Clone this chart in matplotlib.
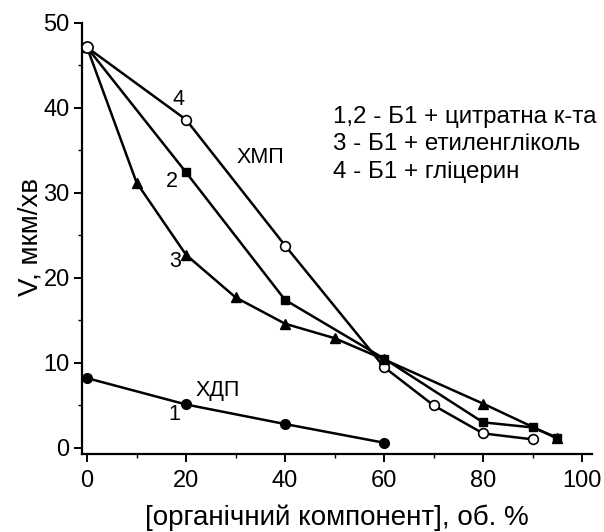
import matplotlib
matplotlib.use("Agg")
import matplotlib.pyplot as plt
from matplotlib.ticker import MultipleLocator

plt.rcParams['font.family'] = ['Liberation Sans', 'DejaVu Sans']

# 1 - ХДП, citric acid
x1 = [0, 20, 40, 60]
v1 = [8.2, 5.1, 2.8, 0.6]

# 2 - ХМП, citric acid
x2 = [0, 20, 40, 60, 80, 90, 95]
v2 = [47.1, 32.4, 17.4, 10.5, 3.0, 2.4, 1.2]

# 3 - ethylene glycol
x3 = [0, 10, 20, 30, 40, 50, 60, 80, 95]
v3 = [47.1, 31.2, 22.7, 17.7, 14.6, 12.9, 10.4, 5.2, 1.1]

# 4 - glycerol
x4 = [0, 20, 40, 60, 70, 80, 90]
v4 = [47.1, 38.6, 23.8, 9.5, 5.0, 1.7, 1.0]

legend_lines = ["1,2 - Б1 + цитратна к-та",
                "3 - Б1 + етиленгліколь",
                "4 - Б1 + гліцерин"]

fig = plt.figure(figsize=(6.04, 5.32), dpi=100)
ax = fig.add_axes([0.136, 0.147, 0.844, 0.815])

lw = 1.8
ax.plot(x4, v4, '-o', color='black', lw=lw, ms=7, mfc='white', mec='black', mew=1.2, zorder=3)
ax.plot(x2, v2, '-s', color='black', lw=lw, ms=6, zorder=4)
ax.plot(x3, v3, '-^', color='black', lw=lw, ms=7, zorder=4)
ax.plot(x1, v1, '-o', color='black', lw=lw, ms=7, zorder=4)
# start point shared by curves 2-4
ax.plot([x4[0]], [v4[0]], 'o', ms=8, mfc='white', mec='black', mew=1.2, zorder=5)

fs = 15.5
ax.text(18.4, 41.0, "4", fontsize=fs, ha='center', va='center')
ax.text(35.0, 34.2, "ХМП", fontsize=fs, ha='center', va='center')
ax.text(17.2, 31.3, "2", fontsize=fs, ha='center', va='center')
ax.text(17.8, 21.9, "3", fontsize=fs, ha='center', va='center')
ax.text(26.3, 6.8, "ХДП", fontsize=fs, ha='center', va='center')
ax.text(17.6, 3.9, "1", fontsize=fs, ha='center', va='center')

for i, line in enumerate(legend_lines):
    ax.text(49.7, 38.9 - i * 3.2, line, fontsize=17.4, ha='left', va='center')

ax.set_xlim(-1, 102)
ax.set_ylim(-0.7, 50.3)
ax.spines['top'].set_visible(False)
ax.spines['right'].set_visible(False)
for s in ('left', 'bottom'):
    ax.spines[s].set_linewidth(1.6)
ax.spines['left'].set_bounds(-0.7, 50)

ax.xaxis.set_major_locator(MultipleLocator(20))
ax.xaxis.set_minor_locator(MultipleLocator(10))
ax.yaxis.set_major_locator(MultipleLocator(10))
ax.yaxis.set_minor_locator(MultipleLocator(5))
ax.tick_params(which='major', direction='out', length=6, width=1.4, labelsize=17, pad=3)
ax.tick_params(axis='x', which='major', pad=6)
ax.tick_params(which='minor', direction='out', length=3, width=1.0)

ax.set_xlabel("[органічний компонент], об. %", fontsize=20, labelpad=9)
ax.set_ylabel("V, мкм/хв", fontsize=20, labelpad=0)

fig.savefig("out.png", dpi=100)
